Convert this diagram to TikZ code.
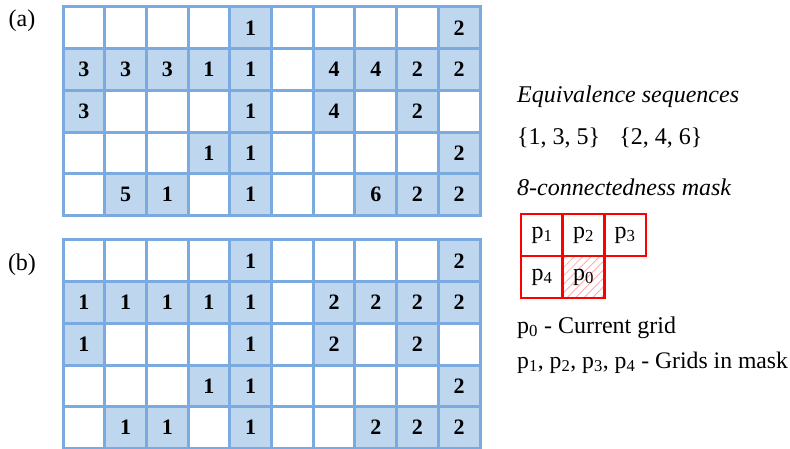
\documentclass[tikz,border=0pt]{standalone}
\usepackage{fontspec}
\setmainfont{Liberation Serif}
\usetikzlibrary{patterns.meta}

\definecolor{gridblue}{RGB}{122,170,224}
\definecolor{cellblue}{RGB}{190,215,238}
\definecolor{hatchred}{RGB}{255,170,170}

% one labelled grid: name, y of first row centre, rows (0 = empty cell)
\newcommand{\numgrid}[3]{%
  \foreach \rw [count=\ri from 0] in {#3}
    \foreach \v [count=\ci from 0] in \rw {
      \ifnum\v=0
        \node[cell] (#1-\ri-\ci) at ({83.85+41.7*\ci},{#2+41.7*\ri}) {};
      \else
        \node[cell, full] (#1-\ri-\ci) at ({83.85+41.7*\ci},{#2+41.7*\ri}) {\v};
      \fi}}

\begin{document}
\begin{tikzpicture}[x=1pt, y=-1pt,
  every node/.style={font=\fontsize{24}{28}\selectfont, inner sep=0pt},
  cell/.style={draw=gridblue, line width=3pt, fill=white,
    minimum width=41.7pt, minimum height=41.7pt,
    font=\fontsize{22}{26}\selectfont\bfseries},
  full/.style={fill=cellblue},
  maskcell/.style={draw=red, line width=2.5pt, minimum width=41.7pt, minimum height=41.7pt},
  txt/.style={anchor=base west}]
\useasboundingbox (0,0) rectangle (790,449);

% (a) labels before merging
\node[anchor=base] (lab-a) at (22,27) {(a)};
\numgrid{a}{27.8}{{0,0,0,0,1,0,0,0,0,2},{3,3,3,1,1,0,4,4,2,2},{3,0,0,0,1,0,4,0,2,0},{0,0,0,1,1,0,0,0,0,2},{0,5,1,0,1,0,0,6,2,2}}

% (b) labels after merging
\node[anchor=base] (lab-b) at (22,270) {(b)};
\numgrid{b}{260.8}{{0,0,0,0,1,0,0,0,0,2},{1,1,1,1,1,0,2,2,2,2},{1,0,0,0,1,0,2,0,2,0},{0,0,0,1,1,0,0,0,0,2},{0,1,1,0,1,0,0,2,2,2}}

% legend
\node[txt] (eqtitle) at (517,103) {\itshape Equivalence sequences};
\node[txt] (eqsets) at (517,145) {\{1, 3, 5\}\hspace{0.8em}\{2, 4, 6\}};
\node[txt] (masktitle) at (517,196) {\itshape 8-connectedness mask};

\node[maskcell] (p1) at (542,235) {p\textsubscript{1}};
\node[maskcell] (p2) at (583.5,235) {p\textsubscript{2}};
\node[maskcell] (p3) at (625,235) {p\textsubscript{3}};
\node[maskcell] (p4) at (542,277) {p\textsubscript{4}};
\node[maskcell, pattern={Lines[angle=45, distance=6pt, line width=0.8pt]}, pattern color=hatchred] (p0) at (583.5,277) {p\textsubscript{0}};

\node[txt] (cur) at (517,333) {p\textsubscript{0} - Current grid};
\node[txt, font=\fontsize{23.7}{28}\selectfont] (nbr) at (517,368) {p\textsubscript{1}, p\textsubscript{2}, p\textsubscript{3}, p\textsubscript{4} - Grids in mask};
\end{tikzpicture}
\end{document}
